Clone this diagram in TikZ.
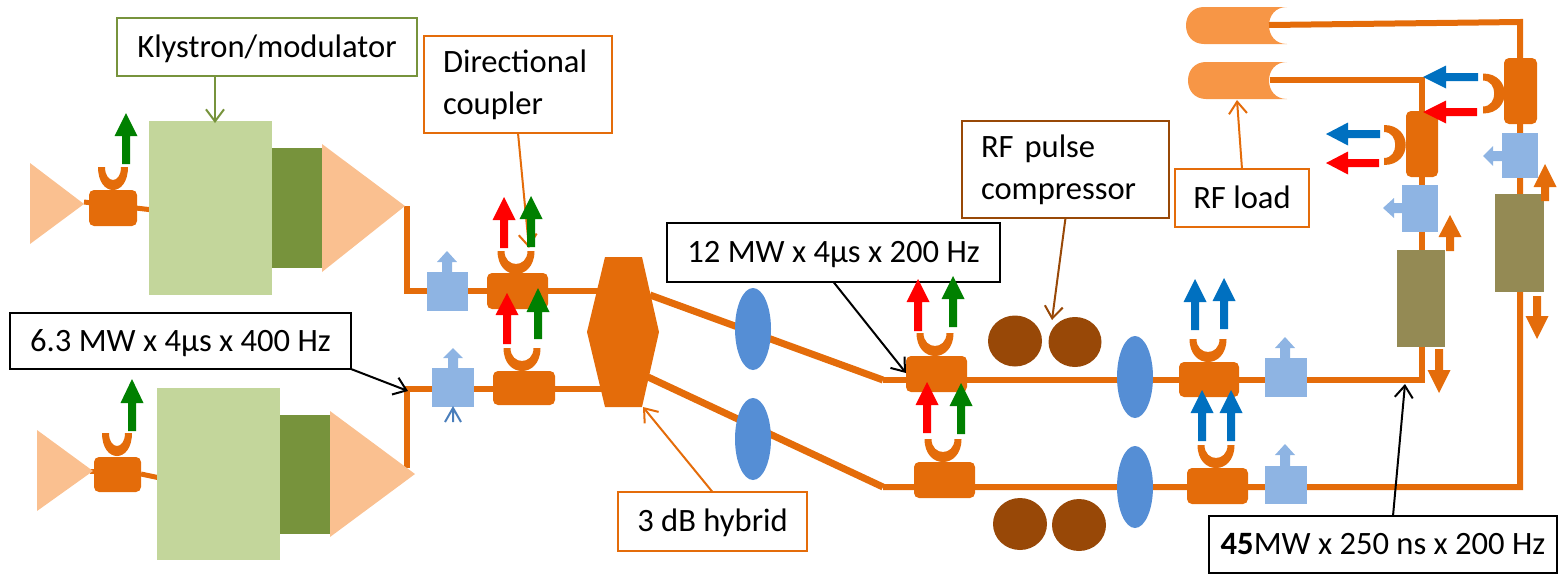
\documentclass[tikz,border=0pt]{standalone}
\usepackage{fontspec}
\setmainfont{Carlito}
\usetikzlibrary{arrows.meta,shapes.geometric}
\definecolor{wgo}{HTML}{E46C0A}
\definecolor{tri}{HTML}{FAC090}
\definecolor{klg}{HTML}{C3D69B}
\definecolor{kld}{HTML}{77933C}
\definecolor{lbl}{HTML}{8EB4E3}
\definecolor{ell}{HTML}{558ED5}
\definecolor{bro}{HTML}{984807}
\definecolor{tan}{HTML}{948A54}
\definecolor{lod}{HTML}{F79646}
\definecolor{agr}{HTML}{008000}
\definecolor{abl}{HTML}{0070C0}
\definecolor{sbl}{HTML}{4A7EBB}
\tikzset{
  wg/.style={draw=wgo,line width=6pt,line join=miter},
  thinwg/.style={draw=wgo,line width=5pt},
  blk/.style={inner sep=0pt,outer sep=0pt,draw=none},
  call/.style={draw=#1,fill=white,line width=2pt,inner sep=0pt,outer sep=0pt,
     font=\fontsize{32.6}{39}\selectfont},
  oneline/.style={text height=24pt,text depth=4pt},
  twoline/.style={align=left},
  co/.style={draw=#1,line width=2pt,-{Straight Barb[length=12pt,width=18pt,line width=2pt]}},
}
% block by its corners
\newcommand\blkbox[6]{\node[blk,fill=#6,minimum width={(#4-#2)*1pt},minimum height={(#5-#3)*1pt}] (#1) at ({(#2+#4)/2},{(#3+#5)/2}) {};}
\newcommand\cplbox[5]{\node[blk,fill=wgo,rounded corners=5pt,minimum width={(#4-#2)*1pt},minimum height={(#5-#3)*1pt}] (#1) at ({(#2+#4)/2},{(#3+#5)/2}) {};}
% ellipse by centre and radii
\newcommand\ellnode[6]{\node[blk,ellipse,fill=#6,minimum width={2*#4*1pt},minimum height={2*#5*1pt}] (#1) at (#2,#3) {};}
% U shaped coupling arm (crescent): centre x, half width of centre line, top y
\newcommand\ucup[3]{\fill[wgo] ({#1-#2-3},#3) .. controls ({#1-#2-3},#3+30.7) and ({#1+#2+3},#3+30.7) .. ({#1+#2+3},#3) -- ({#1+#2-4},#3) .. controls ({#1+#2-4},#3+17.3) and ({#1-#2+4},#3+17.3) .. ({#1-#2+4},#3) -- cycle;}
% side arm opening left: left x, centre y, half height of centre line
\newcommand\scup[3]{\fill[wgo] (#1,{#2-#3-3}) .. controls (#1+29,{#2-#3-3}) and (#1+29,{#2+#3+3}) .. (#1,{#2+#3+3}) -- (#1,{#2+#3-4}) .. controls (#1+15,{#2+#3-4}) and (#1+15,{#2-#3+4}) .. (#1,{#2-#3+4}) -- cycle;}
% vertical fat arrow: x, tip y, head base y, tail y, colour
\newcommand\vfat[5]{\fill[#5] (#1,#2) -- ({#1+11.5},#3) -- ({#1+4},#3) -- ({#1+4},#4) -- ({#1-4},#4) -- ({#1-4},#3) -- ({#1-11.5},#3) -- cycle;}
% horizontal fat arrow: y, tip x, head base x, tail x, colour
\newcommand\hfat[5]{\fill[#5] (#2,#1) -- (#3,{#1+11.5}) -- (#3,{#1+4}) -- (#4,{#1+4}) -- (#4,{#1-4}) -- (#3,{#1-4}) -- (#3,{#1-11.5}) -- cycle;}
% light blue stubs
\newcommand\bup[4]{\fill[lbl] (#1,#2) -- ({#1+10},#3) -- ({#1+5},#3) -- ({#1+5},#4) -- ({#1-5},#4) -- ({#1-5},#3) -- ({#1-10},#3) -- cycle;}
\newcommand\blft[4]{\fill[lbl] (#2,#1) -- (#3,{#1+10}) -- (#3,{#1+5}) -- (#4,{#1+5}) -- (#4,{#1-5}) -- (#3,{#1-5}) -- (#3,{#1-10}) -- cycle;}
% RF load: top y, bottom y, left x (start of the straight part)
\newcommand\rfload[3]{\fill[lod] (1287,#1) -- (#3,#1) .. controls ({#3-11},#1) and ({#3-18},{#1+8}) .. ({#3-18},{(#1+#2)/2}) .. controls ({#3-18},{#2-8}) and ({#3-11},#2) .. (#3,#2) -- (1287,#2) .. controls (1275,#2) and (1269,{#2-9}) .. (1269,{(#1+#2)/2}) .. controls (1269,{#1+9}) and (1275,#1) .. (1287,#1) -- cycle;}
\begin{document}
\begin{tikzpicture}[x=1pt,y=-1pt]
\useasboundingbox (0,0) rectangle (1559,574);
% named points of the waveguide
\coordinate (a1) at (407,206);
\coordinate (a2) at (407,468);
\coordinate (hT) at (605,291);
\coordinate (hB) at (605,389);
\coordinate (hO1) at (650,295);
\coordinate (hO2) at (648,377);
\coordinate (k1) at (883,380);
\coordinate (k2) at (883,487);
\coordinate (c1) at (1422,380);
\coordinate (c1t) at (1422,80);
\coordinate (c2) at (1520,487);
\coordinate (c2t) at (1520,22);
\coordinate (l1) at (1269,25);
\coordinate (l2) at (1270,80);
% loads
\rfload{7}{44}{1204}
\rfload{62}{99}{1206}
% waveguides
\draw[wg] (a1) |- (hT);
\draw[wg] (a2) |- (hB);
\draw[wg,line width=7pt] (hO1) -- (k1);
\draw[wg,line width=7pt] (hO2) -- (k2);
\draw[wg] (k1) -- (c1) -- (c1t) -- (l2);
\draw[wg] (k2) -- (c2) -- (c2t) -- (l1);
\draw[thinwg] (84,202) -- (153,210);
\draw[thinwg] (90,471) -- (94,471);
\draw[thinwg] (141,474) -- (160,478);
% klystrons
\fill[tri] (30,163) -- (84,204) -- (30,244) -- cycle;
\fill[tri] (37,430) -- (93,471) -- (37,511) -- cycle;
\blkbox{kt}{149}{121}{272}{295}{klg}
\blkbox{kb}{157}{388}{280}{560}{klg}
\blkbox{kdt}{272}{148}{322}{268}{kld}
\blkbox{kdb}{280}{415}{330}{534}{kld}
\fill[tri] (322,144) -- (405,206) -- (322,272) -- cycle;
\fill[tri] (330,411) -- (415,474) -- (330,537) -- cycle;
% hybrid
\fill[wgo] (605,257) -- (642,257) -- (659,332) -- (642,407) -- (605,407) -- (587,332) -- cycle;
\coordinate (hybS) at (643,407);
% ellipses and compressor cavities
\ellnode{e1}{753}{329}{18}{41}{ell}
\ellnode{e2}{753}{439}{18}{41}{ell}
\ellnode{e3}{1135}{377}{18}{41}{ell}
\ellnode{e4}{1135}{487}{18}{41}{ell}
\ellnode{p1}{1015}{341}{27}{25.5}{bro}
\ellnode{p2}{1075}{342}{26.5}{25}{bro}
\ellnode{p3}{1020}{524}{27}{26}{bro}
\ellnode{p4}{1079}{525}{27}{26}{bro}
% couplers
\cplbox{c01}{89}{190}{137}{226}
\cplbox{c02}{94}{457}{141}{492}
\cplbox{c03}{487}{273}{548}{309}
\cplbox{c04}{493}{371}{555}{405}
\cplbox{c05}{906}{356}{967}{392}
\cplbox{c06}{914}{462}{975}{498}
\cplbox{c07}{1179}{362}{1239}{397}
\cplbox{c08}{1187}{468}{1248}{504}
\cplbox{c09}{1406}{111}{1438}{177}
\cplbox{c10}{1504}{58}{1537}{124}
\ucup{113}{12}{167}
\ucup{117}{12}{433}
\ucup{516}{15.5}{251}
\ucup{522}{15.5}{348}
\ucup{935}{15.5}{333}
\ucup{943}{15.5}{439}
\ucup{1208}{15.5}{339}
\ucup{1216}{15.5}{445}
\scup{1384}{145}{17}
\scup{1483}{93.5}{17}
% light blue units
\blkbox{b1}{427}{272}{468}{311}{lbl}
\blkbox{b2}{432}{368}{474}{407}{lbl}
\blkbox{b3}{1265}{358}{1307}{397}{lbl}
\blkbox{b4}{1265}{466}{1307}{504}{lbl}
\blkbox{b5}{1402}{185}{1438}{232}{lbl}
\blkbox{b6}{1502}{133}{1538}{178}{lbl}
\bup{447}{251}{262}{272}
\bup{453}{348}{358}{368}
\bup{1285}{337}{348}{358}
\bup{1285}{444}{455}{466}
\blft{208}{1383}{1394}{1402}
\blft{156}{1483}{1493}{1502}
\draw[sbl,line width=2pt] (453,422) -- (453,408) (445,422) -- (453,408) -- (461,422);
% tan units
\blkbox{t1}{1397}{250}{1445}{347}{tan}
\blkbox{t2}{1495}{194}{1544}{292}{tan}
% callouts
\node[call=kld,oneline,minimum width=300pt,minimum height=58pt] (kly) at (267,47) {Klystron/modulator};
\node[call=wgo,twoline,minimum width=188pt,minimum height=97pt,text width=150pt] (dc) at (518,84.5) {\vspace*{3pt}Directional\\coupler};
\node[call=black,oneline,minimum width=341pt,minimum height=56pt] (v63) at (180.5,341) {6.3 MW x 4µs x 400 Hz};
\node[call=black,oneline,minimum width=333pt,minimum height=59pt] (v12) at (833.5,252.5) {12 MW x 4µs x 200 Hz};
\node[call=wgo,oneline,minimum width=189pt,minimum height=59pt] (h3) at (712.5,521.5) {3 dB hybrid};
\node[call=bro,twoline,minimum width=207pt,minimum height=97pt,text width=169pt] (rp) at (1065.5,169.5) {\vspace*{3pt}RF pulse\\compressor};
\node[call=wgo,oneline,minimum width=134pt,minimum height=58pt] (rl) at (1242,198) {RF load};
\node[call=black,oneline,minimum width=348pt,minimum height=57pt] (v45) at (1383,544.5) {\textbf{45}MW x 250 ns x 200 Hz};
\coordinate (klyT) at (215,123);
\coordinate (dcT) at (529,248);
\coordinate (v63T) at (408,391);
\coordinate (v12T) at (906,373);
\coordinate (rpT) at (1052,320);
\coordinate (rlT) at (1237,100);
\coordinate (v45S) at (1393,516);
\coordinate (v45T) at (1405,384);
\draw[co=kld] (kly.south -| klyT) -- (klyT);
\draw[co=wgo] (dc.south) -- (dcT);
\draw[co=black] (v63.south east) -- (v63T);
\draw[co=black] (v12.south) -- (v12T);
\draw[co=wgo] (h3.north) -- (hybS);
\draw[co=bro] (rp.south) -- (rpT);
\draw[co=wgo] (rl.north) -- (rlT);
\draw[co=black] (v45S) -- (v45T);
% fat arrows
\vfat{126}{113}{136}{164}{agr}
\vfat{132}{379}{403}{431}{agr}
\vfat{504}{197}{220}{248}{red}
\vfat{531}{196}{219}{247}{agr}
\vfat{507}{293}{315}{344}{red}
\vfat{538}{288}{312}{339}{agr}
\vfat{918}{279}{302}{331}{red}
\vfat{953}{276}{299}{327}{agr}
\vfat{927}{382}{405}{433}{red}
\vfat{961}{383}{406}{434}{agr}
\vfat{1195}{279}{302}{330}{abl}
\vfat{1224}{278}{301}{329}{abl}
\vfat{1202}{390}{413}{441}{abl}
\vfat{1231}{390}{413}{441}{abl}
\hfat{134}{1326}{1348}{1380}{abl}
\hfat{163}{1326}{1348}{1379}{red}
\hfat{77}{1423}{1446}{1478}{abl}
\hfat{112}{1423}{1446}{1477}{red}
\vfat{1450}{215}{237}{251}{wgo}
\vfat{1545}{164}{187}{201}{wgo}
\vfat{1439}{393}{370}{349}{wgo}
\vfat{1537}{339}{316}{296}{wgo}
\end{tikzpicture}
\end{document}
